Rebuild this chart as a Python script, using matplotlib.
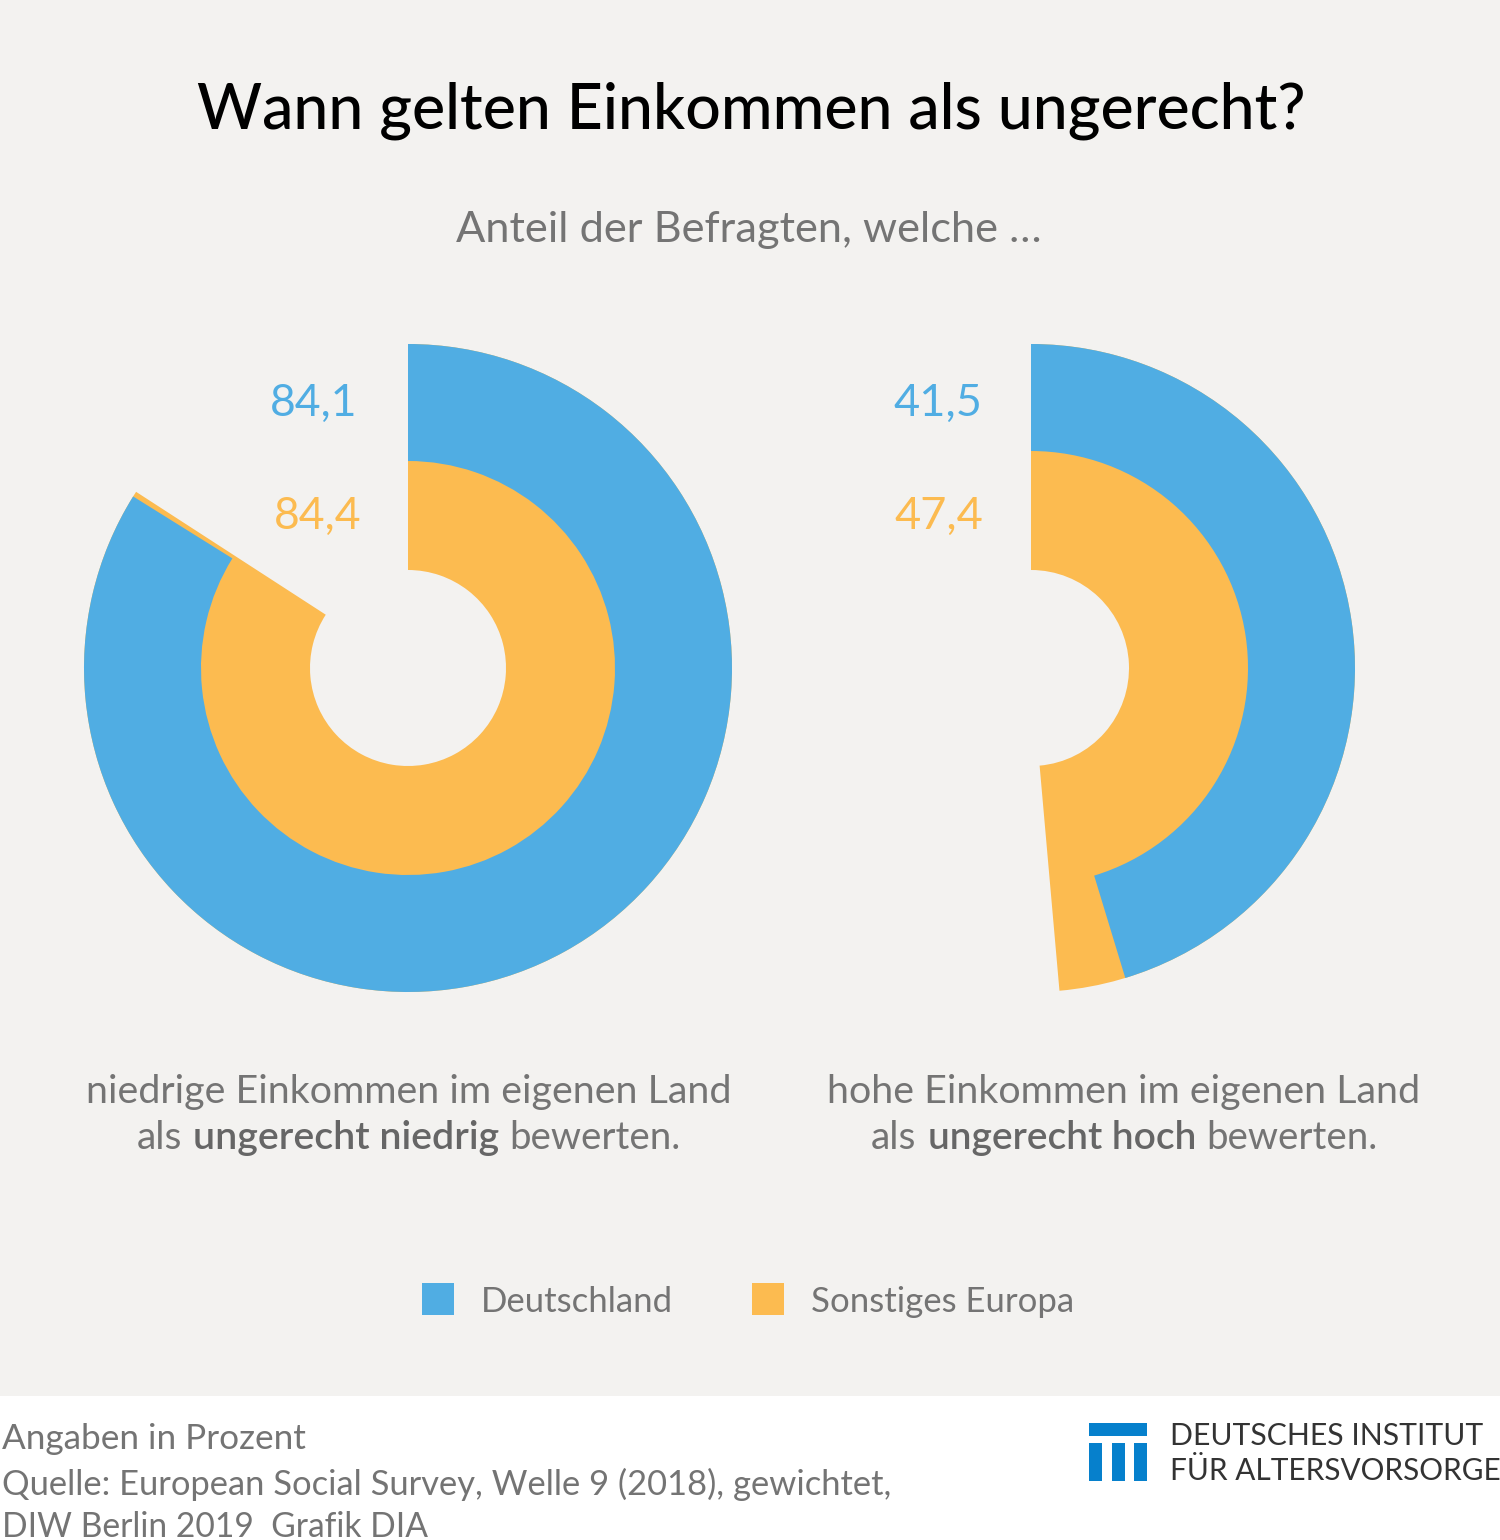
import matplotlib
matplotlib.use("Agg")
import matplotlib.pyplot as plt
from matplotlib.patches import Rectangle

W, H = 1500, 1540

BG = "#f3f2f0"
BLUE = "#50ade3"
ORANGE = "#fcbb50"
GREY = "#747474"
LOGO = "#0680cc"

SERIES = ["Deutschland", "Sonstiges Europa"]
LOW_LABELS = ["84,1", "84,4"]
HIGH_LABELS = ["41,5", "47,4"]
# shares as the arcs are actually drawn in the picture, the right ones differ from the printed labels
LOW_VALUES = [83.88, 84.15]
HIGH_VALUES = [45.3, 48.6]


def ring(ax, center, value, inner, outer, color):
    ax.pie(
        [value, 100 - value],
        colors=[color, "none"],
        radius=outer,
        startangle=90,
        counterclock=False,
        center=center,
        frame=True,
        wedgeprops={"width": outer - inner, "linewidth": 0},
    )


def main():
    plt.rcParams["font.family"] = ["Lato", "DejaVu Sans"]
    fig = plt.figure(figsize=(W / 100, H / 100), dpi=100, facecolor="white")
    ax = fig.add_axes([0, 0, 1, 1])
    ax.add_patch(Rectangle((0, 0), W, 1396, facecolor=BG, edgecolor="none"))

    # pies need a y axis that points up, the text axes below uses picture pixels
    pie_ax = fig.add_axes([0, 0, 1, 1], zorder=2)
    pie_ax.patch.set_alpha(0)
    # orange sits underneath and reaches the outer edge, blue covers it
    ring(pie_ax, (408, H - 668), LOW_VALUES[1], 98, 324, ORANGE)
    ring(pie_ax, (408, H - 668), LOW_VALUES[0], 207, 324, BLUE)
    ring(pie_ax, (1031, H - 668), HIGH_VALUES[1], 98, 324, ORANGE)
    ring(pie_ax, (1031, H - 668), HIGH_VALUES[0], 217, 324, BLUE)
    pie_ax.set_xlim(0, W)
    pie_ax.set_ylim(0, H)
    pie_ax.set_aspect("auto")
    pie_ax.axis("off")

    ax.set_xlim(0, W)
    ax.set_ylim(H, 0)
    ax.axis("off")

    ax.text(751, 111, "Wann gelten Einkommen als ungerecht?", fontsize=45.1, color="black", ha="center", va="center", fontweight="medium")
    ax.text(749, 230, "Anteil der Befragten, welche …", fontsize=31.2, color=GREY, ha="center", va="center")

    ax.text(357, 403, LOW_LABELS[0], fontsize=32, color=BLUE, ha="right", va="center")
    ax.text(362, 516, LOW_LABELS[1], fontsize=32, color=ORANGE, ha="right", va="center")
    ax.text(982, 403, HIGH_LABELS[0], fontsize=32.5, color=BLUE, ha="right", va="center")
    ax.text(983, 516, HIGH_LABELS[1], fontsize=32.5, color=ORANGE, ha="right", va="center")

    ax.text(409, 1092, "niedrige Einkommen im eigenen Land", fontsize=28.4, color=GREY, ha="center", va="center")
    ax.text(137, 1138, "als", fontsize=28, color=GREY, ha="left", va="center")
    ax.text(193, 1138, "ungerecht niedrig", fontsize=28.3, color="#666666", ha="left", va="center", fontweight="semibold")
    ax.text(509, 1138, "bewerten.", fontsize=27.6, color=GREY, ha="left", va="center")

    ax.text(1124, 1092, "hohe Einkommen im eigenen Land", fontsize=28.4, color=GREY, ha="center", va="center")
    ax.text(871, 1138, "als", fontsize=28, color=GREY, ha="left", va="center")
    ax.text(928, 1138, "ungerecht hoch", fontsize=28, color="#666666", ha="left", va="center", fontweight="semibold")
    ax.text(1206, 1138, "bewerten.", fontsize=27.6, color=GREY, ha="left", va="center")

    ax.add_patch(Rectangle((422, 1283), 32, 32, facecolor=BLUE, edgecolor="none"))
    ax.add_patch(Rectangle((752, 1283), 32, 32, facecolor=ORANGE, edgecolor="none"))
    ax.text(481, 1302, SERIES[0], fontsize=25, color=GREY, ha="left", va="center")
    ax.text(811, 1302, SERIES[1], fontsize=25, color=GREY, ha="left", va="center")

    ax.text(2, 1439, "Angaben in Prozent", fontsize=25.3, color=GREY, ha="left", va="center")
    ax.text(2, 1484, "Quelle: European Social Survey, Welle 9 (2018), gewichtet,", fontsize=24.8, color=GREY, ha="left", va="center")
    ax.text(2, 1527, "DIW Berlin 2019  Grafik DIA", fontsize=24.2, color=GREY, ha="left", va="center")

    ax.add_patch(Rectangle((1089, 1423), 58, 13, facecolor=LOGO, edgecolor="none"))
    for x in (1089, 1112, 1134):
        ax.add_patch(Rectangle((x, 1443), 13, 38, facecolor=LOGO, edgecolor="none"))
    ax.text(1170, 1436, "DEUTSCHES INSTITUT", fontsize=21.7, color="#333333", ha="left", va="center")
    ax.text(1170, 1471, "FÜR ALTERSVORSORGE", fontsize=21.4, color="#333333", ha="left", va="center")

    fig.savefig("out.png", dpi=100, facecolor="white")


if __name__ == "__main__":
    main()
